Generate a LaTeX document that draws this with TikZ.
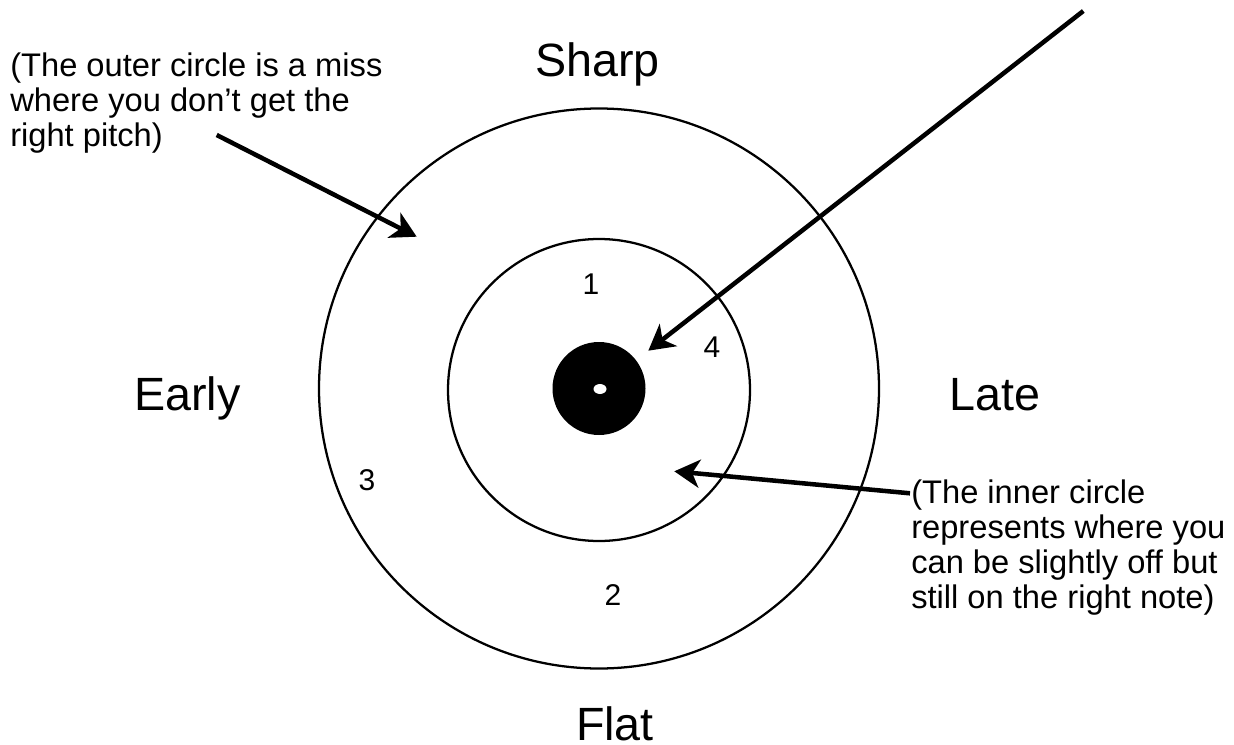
\documentclass[tikz,border=0pt]{standalone}
\usepackage{fontspec}
\setmainfont{Liberation Sans}
\usetikzlibrary{arrows.meta,shapes.geometric}
\begin{document}
\begin{tikzpicture}[x=0.75pt,y=-0.75pt,
  ring/.style={circle,draw,line width=1.7pt,inner sep=0pt},
  arr/.style={line width=3.4pt,-{Stealth[length=19pt,width=21pt,inset=5.5pt]}},
  big/.style={font=\fontsize{35}{40}\selectfont,inner sep=0pt,anchor=base},
  num/.style={font=\fontsize{22.5}{26}\selectfont,inner sep=0pt,anchor=base},
  note/.style={font=\fontsize{24.5}{26.25}\selectfont,inner sep=0pt,align=left,anchor=base west}]
\useasboundingbox (0,0) rectangle (1234,745);
% target
\node[ring,minimum size=420pt] (outer) at (599,388.5) {};
\node[ring,minimum size=226.5pt] (inner) at (599,390) {};
\node[circle,fill=black,inner sep=0pt,minimum size=69.75pt] (bull) at (599,388.5) {};
\node[ellipse,fill=white,inner sep=0pt,minimum width=9.75pt,minimum height=7.5pt] (dot) at (600,389) {};
% direction labels
\node[big] (sharp) at (597.5,76.7) {Sharp};
\node[big] (early) at (187.5,410) {Early};
\node[big] (late) at (995,410) {Late};
\node[big] (flat) at (615,740) {Flat};
% zone numbers
\node[num] (n1) at (591,294.5) {1};
\node[num] (n4) at (712,357.5) {4};
\node[num] (n3) at (367,490) {3};
\node[num] (n2) at (613,605) {2};
% notes (base anchor = baseline of last line)
\node[note] (outernote) at (10,147) {(The outer circle is a miss\\where you don’t get the\\right pitch)};
\node[note] (innernote) at (911,608.5) {(The inner circle\\represents where you\\can be slightly off but\\still on the right note)};
% arrows
\coordinate (oa) at (216.7,135);
\coordinate (ot) at (416.7,236.7);
\coordinate (la) at (1083.3,11);
\coordinate (lt) at (648.3,350.7);
\coordinate (ia) at (910,493.3);
\coordinate (it) at (674.3,471.3);
\draw[arr] (oa) -- (ot);
\draw[arr] (la) -- (lt);
\draw[arr] (ia) -- (it);
\end{tikzpicture}
\end{document}
